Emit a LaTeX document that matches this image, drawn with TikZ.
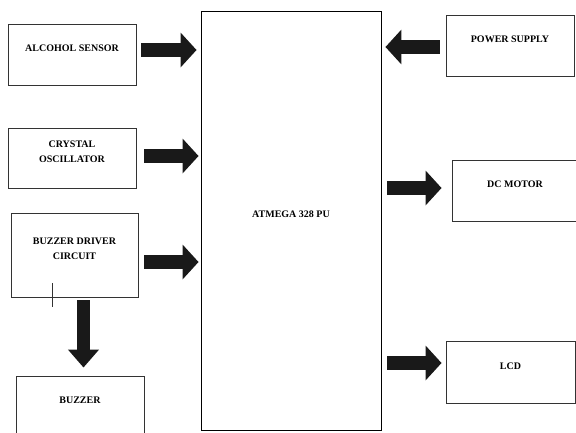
\documentclass[tikz,border=0pt]{standalone}
\usepackage{fontspec}
\setmainfont{Liberation Serif}
\usetikzlibrary{arrows.meta}
\tikzset{
  blocknode/.style = {align=center, inner sep=0pt, font=\fontsize{10}{15}\selectfont\bfseries},
  blk_n/.style = {draw=black!80, line width=0.9pt, fill=white, minimum width=128pt,
    minimum height=61pt, label={[blocknode, yshift=6pt]center:#1}},
  fat_arr/.style = {draw=black!90, line width=14pt,
    -{Triangle[width=34pt, length=16pt]}, shorten <=5pt, shorten >=4pt}}

\begin{document}
\begin{tikzpicture}[x=1pt, y=-1pt]
\useasboundingbox (0,0) rectangle (576,432);

\node [blk_n={ALCOHOL SENSOR}] (alc) at (72,54.5) {};
\node [blk_n={CRYSTAL\\OSCILLATOR}, minimum height=60pt] (osc) at (72,158) {};
\node [blk_n={BUZZER DRIVER\\CIRCUIT}, minimum width=127pt, minimum height=84pt] (drv) at (74.5,255) {};
\node [blk_n={BUZZER}] (buz) at (80,406.5) {};
\node [blk_n={ATMEGA 328 PU}, draw=black, minimum width=180pt, minimum height=419pt] (mcu) at (291,220.5) {};
\node [blk_n={POWER SUPPLY}] (pwr) at (510,45.5) {};
\node [blk_n={DC MOTOR}, minimum width=126pt] (dcm) at (515,190.5) {};
\node [blk_n={LCD}, minimum width=129pt, minimum height=62pt] (lcd) at (510.5,372) {};

\draw [fat_arr] ([yshift=4.5pt]alc.east) -- ([yshift=4.5pt]alc.east -| mcu.west);
\draw [fat_arr, shorten <=8pt, shorten >=2pt] ([yshift=2pt]osc.east) -- ([yshift=2pt]osc.east -| mcu.west);
\draw [fat_arr, shorten <=6pt, shorten >=2pt] ([yshift=-7pt]drv.east) -- ([yshift=-7pt]drv.east -| mcu.west);
\draw [fat_arr, shorten <=3pt, shorten >=8pt, -{Triangle[width=30pt, length=18pt]}, line width=13pt]
  ([xshift=9pt]drv.south) -- ([xshift=9pt]drv.south |- buz.north);
\draw [fat_arr, shorten <=6pt] ([yshift=-1.5pt]pwr.west) -- ([yshift=-1.5pt]pwr.west -| mcu.east);
\draw [fat_arr, shorten <=6pt, shorten >=10pt] ([yshift=2.5pt]dcm.west -| mcu.east) -- ([yshift=2.5pt]dcm.west);
\draw [fat_arr, shorten <=6pt] ([yshift=9pt]lcd.west -| mcu.east) -- ([yshift=9pt]lcd.west);

\draw [black!80, line width=0.9pt] ([xshift=42pt]drv.south west) ++(0,-14) -- ++(0,24);
\end{tikzpicture}
\end{document}
